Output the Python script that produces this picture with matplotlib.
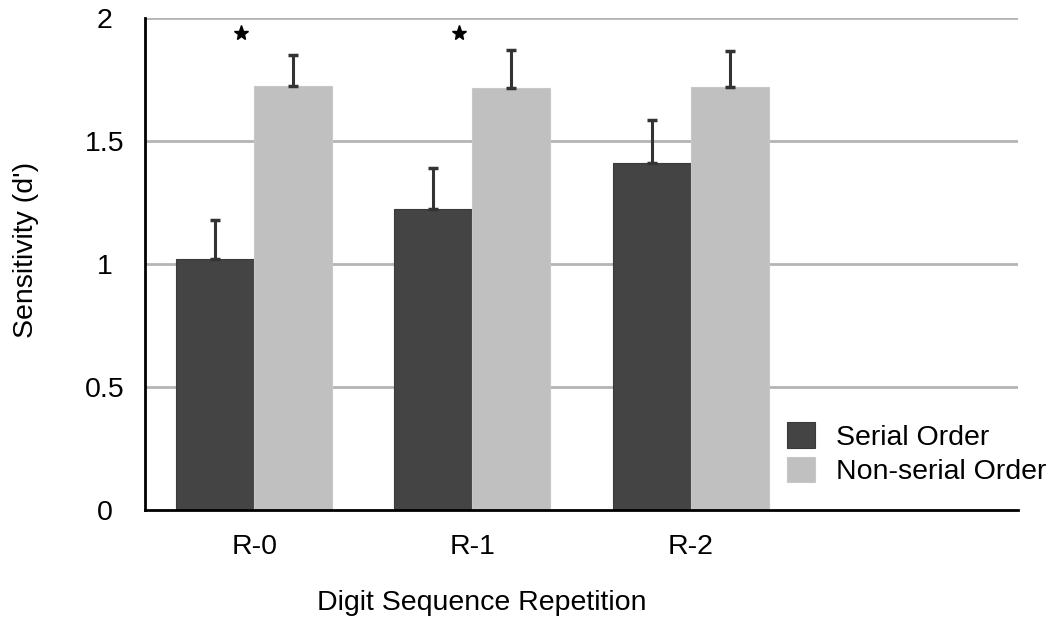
import matplotlib
matplotlib.use("Agg")
import matplotlib.pyplot as plt
import numpy as np

plt.rcParams['font.family'] = ['Liberation Sans', 'DejaVu Sans']

categories = ["R-0", "R-1", "R-2"]
serial = [1.02, 1.225, 1.41]
serial_err = [0.16, 0.165, 0.175]
nonserial = [1.725, 1.715, 1.72]
nonserial_err = [0.125, 0.155, 0.145]
star_cats = [0, 1]
star_y = [1.94, 1.94]
yticks = [0, 0.5, 1, 1.5, 2]
ytick_labels = ["0", "0.5", "1", "1.5", "2"]

FS = 20.5
fig = plt.figure(figsize=(10.52, 6.2), dpi=100)
ax = fig.add_axes([145/1052, 1-510/620, (1018-145)/1052, (510-18)/620])

x = np.arange(len(categories))
w = 0.357
ax.set_axisbelow(True)
for yv in yticks[1:]:
    ax.axhline(yv, color='#b4b4b4', lw=2, zorder=0)

ax.bar(x - w/2, serial, w, color='#444444', edgecolor='#3a3a3a', linewidth=0.8,
       label='Serial Order', zorder=2)
ax.bar(x + w/2, nonserial, w, color='#c0c0c0', edgecolor='#c8c8c8', linewidth=0.8,
       label='Non-serial Order', zorder=2)
ax.errorbar(x - w/2, serial, yerr=[np.zeros(len(serial)), serial_err], fmt='none',
            ecolor='#333333', elinewidth=2.2, capsize=3.6, capthick=2.5, zorder=3)
ax.errorbar(x + w/2, nonserial, yerr=[np.zeros(len(nonserial)), nonserial_err], fmt='none',
            ecolor='#333333', elinewidth=2.2, capsize=3.6, capthick=2.5, zorder=3)

ax.plot(np.array(star_cats) - 0.06, star_y, linestyle='none', marker='*',
        markersize=11, color='black', zorder=4)

ax.set_xlim(-0.5, 3.5)
ax.set_ylim(0, 2)
ax.set_xticks(x)
ax.set_xticklabels(categories, fontsize=FS)
ax.set_yticks(yticks)
ax.set_yticklabels(ytick_labels, fontsize=FS, ha='center')
ax.tick_params(axis='both', length=0)
ax.tick_params(axis='x', pad=17)
ax.tick_params(axis='y', pad=29)

for s in ['top', 'right']:
    ax.spines[s].set_visible(False)
ax.spines['left'].set_linewidth(2)
ax.spines['bottom'].set_linewidth(2)

fig.text(26/1052, 1-250/620, "Sensitivity (d')", fontsize=FS, rotation=90,
         ha='center', va='center')
fig.text(482/1052, 1-603/620, "Digit Sequence Repetition", fontsize=FS,
         ha='center', va='center')

leg = ax.legend(loc='upper left', bbox_to_anchor=(0.735, 0.178), frameon=False,
                fontsize=FS, handlelength=1.0, handleheight=1.0,
                handletextpad=0.75, labelspacing=0.2, borderpad=0, borderaxespad=0)

fig.savefig("out.png", dpi=100)
